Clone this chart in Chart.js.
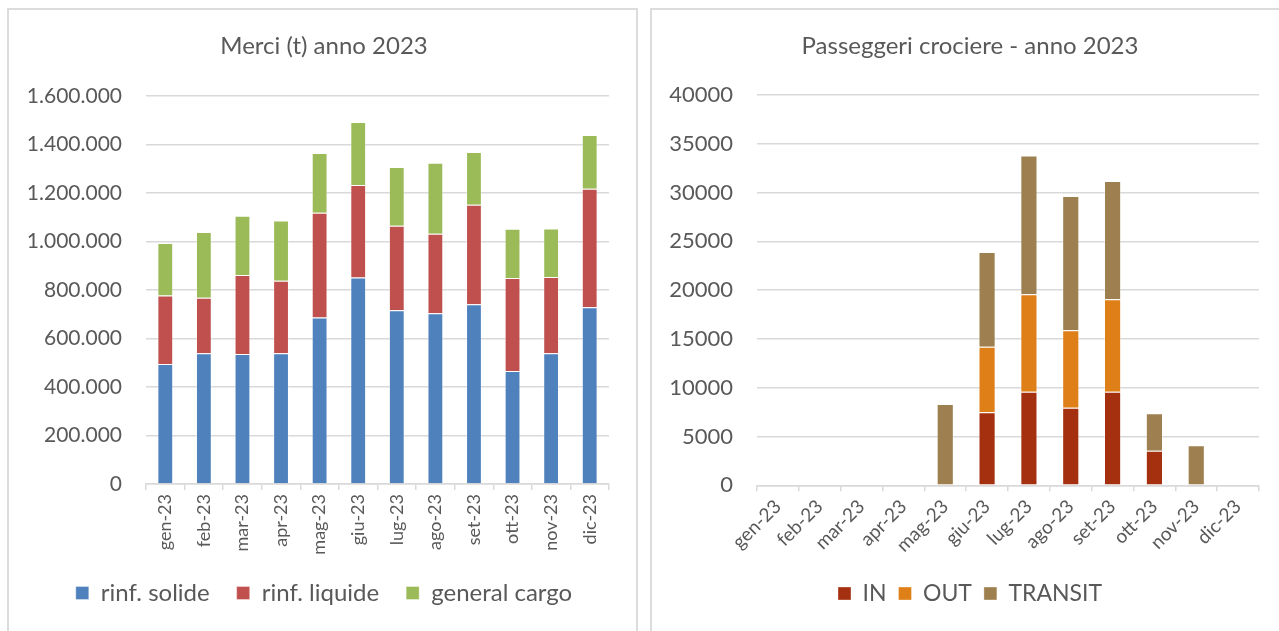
<!DOCTYPE html>
<html>
<head>
<meta charset="utf-8">
<script src="https://cdn.jsdelivr.net/npm/chart.js@4/dist/chart.umd.min.js"></script>
<style>
  html, body { margin: 0; padding: 0; background: #fff; overflow: hidden; width: 1279px; height: 631px; }
  .panel { position: absolute; top: 8px; height: 700px; border: 2px solid #dcdcdc; box-sizing: border-box; }
  canvas { position: absolute; top: 10px; }
</style>
</head>
<body>
<div class="panel" style="left:7px; width:631px;"></div>
<div class="panel" style="left:650px; width:700px;"></div>
<canvas id="merciChart" width="627" height="621" style="left:9px;"></canvas>
<canvas id="crociereChart" width="636" height="621" style="left:652px;"></canvas>
<script>
// mesi
const mesi = ['gen-23', 'feb-23', 'mar-23', 'apr-23', 'mag-23', 'giu-23', 'lug-23', 'ago-23', 'set-23', 'ott-23', 'nov-23', 'dic-23'];

// Merci (t)
const rinfSolide  = [495000, 539000, 536000, 539000, 687000, 852000, 716000, 704000, 741000, 466000, 539000, 729000];
const rinfLiquide = [282000, 229000, 326000, 299000, 432000, 381000, 349000, 328000, 411000, 383000, 315000, 489000];
const generalCargo = [217000, 271000, 244000, 249000, 246000, 260000, 242000, 293000, 217000, 204000, 200000, 221000];
const merciTicks = [0, 200000, 400000, 600000, 800000, 1000000, 1200000, 1400000, 1600000];

// Passeggeri crociere
const paxIn      = [0, 0, 0, 0, 0, 7480, 9600, 7960, 9600, 3550, 0, 0];
const paxOut     = [0, 0, 0, 0, 0, 6720, 9980, 7930, 9460, 0, 0, 0];
const paxTransit = [0, 0, 0, 0, 8330, 9700, 14210, 13760, 12130, 3830, 4100, 0];
const crociereTicks = [0, 5000, 10000, 15000, 20000, 25000, 30000, 35000, 40000];

const testo = '#595959';
const griglia = '#d9d9d9';
const fontBase = 'Lato, "Open Sans", sans-serif';

Chart.defaults.font.family = fontBase;
Chart.defaults.color = testo;
Chart.defaults.animation = false;

// le etichette dell'asse y escono nel padding sinistro: niente ritaglio
const noClipY = {
    id: 'noClipY',
    beforeDraw(chart) {
        chart.scales.y._computeLabelArea = () => undefined;
    }
};

function puntini(v) {
    return String(v).replace(/\B(?=(\d{3})+(?!\d))/g, '.');
}

function serie(label, data, colore) {
    return {
        label: label,
        data: data,
        backgroundColor: colore,
        borderColor: 'rgba(255,255,255,0.35)',
        borderWidth: 1,
        categoryPercentage: 1,
        barPercentage: 0.41
    };
}

function opzioni(cfg) {
    return {
        responsive: false,
        maintainAspectRatio: false,
        layout: { padding: { top: 10, right: cfg.padRight, bottom: 16, left: cfg.padLeft } },
        plugins: {
            title: {
                display: true,
                text: cfg.titolo,
                color: testo,
                font: { size: 24, weight: 'normal' },
                padding: { top: 11.6, bottom: cfg.titleBottom }
            },
            legend: {
                position: 'bottom',
                labels: {
                    boxWidth: 13,
                    boxHeight: 13,
                    padding: cfg.legPad,
                    color: testo,
                    font: { size: cfg.legFont }
                }
            },
            tooltip: { enabled: false }
        },
        scales: {
            x: {
                stacked: true,
                afterFit: (s) => { s.height = cfg.xHeight; },
                border: { display: true, color: griglia, width: 1.5 },
                grid: { display: true, drawOnChartArea: false, color: griglia, lineWidth: 1.5, tickLength: 6, offset: true },
                ticks: {
                    minRotation: cfg.rot, maxRotation: cfg.rot, autoSkip: false,
                    padding: 4,
                    color: testo,
                    font: { size: cfg.xFont }
                }
            },
            y: {
                stacked: true,
                min: 0,
                max: cfg.ticks[cfg.ticks.length - 1],
                afterFit: (s) => { s.width = cfg.yWidth; },
                afterBuildTicks: (s) => { s.ticks = cfg.ticks.map(v => ({ value: v })); },
                border: { display: false },
                grid: { color: griglia, lineWidth: 1.5, drawTicks: false },
                ticks: {
                    padding: 24,
                    color: testo,
                    font: { size: cfg.yFont },
                    callback: cfg.fmt
                }
            }
        }
    };
}

new Chart(document.getElementById('merciChart'), {
    type: 'bar',
    data: {
        labels: mesi,
        datasets: [
            serie('rinf. solide', rinfSolide, '#4f81bd'),
            serie('rinf. liquide', rinfLiquide, '#c0504d'),
            serie('general cargo', generalCargo, '#9bbb59')
        ]
    },
    options: opzioni({
        titolo: 'Merci (t) anno 2023',
        titleBottom: 35.6,
        padLeft: 30,
        padRight: 27,
        xHeight: 70,
        yWidth: 107,
        rot: 90,
        xFont: 18,
        yFont: 21,
        legFont: 24,
        legPad: 27,
        ticks: merciTicks,
        fmt: (v) => puntini(v)
    }),
    plugins: [noClipY]
});

new Chart(document.getElementById('crociereChart'), {
    type: 'bar',
    data: {
        labels: mesi,
        datasets: [
            serie('IN', paxIn, '#a5300f'),
            serie('OUT', paxOut, '#de7f18'),
            serie('TRANSIT', paxTransit, '#9e8050')
        ]
    },
    options: opzioni({
        titolo: 'Passeggeri crociere - anno 2023',
        titleBottom: 34.6,
        padLeft: 29,
        padRight: 29,
        xHeight: 84.7,
        yWidth: 76,
        rot: 45,
        xFont: 19,
        yFont: 22,
        legFont: 23,
        legPad: 12,
        ticks: crociereTicks,
        fmt: (v) => String(v)
    }),
    plugins: [noClipY]
});
</script>
</body>
</html>
